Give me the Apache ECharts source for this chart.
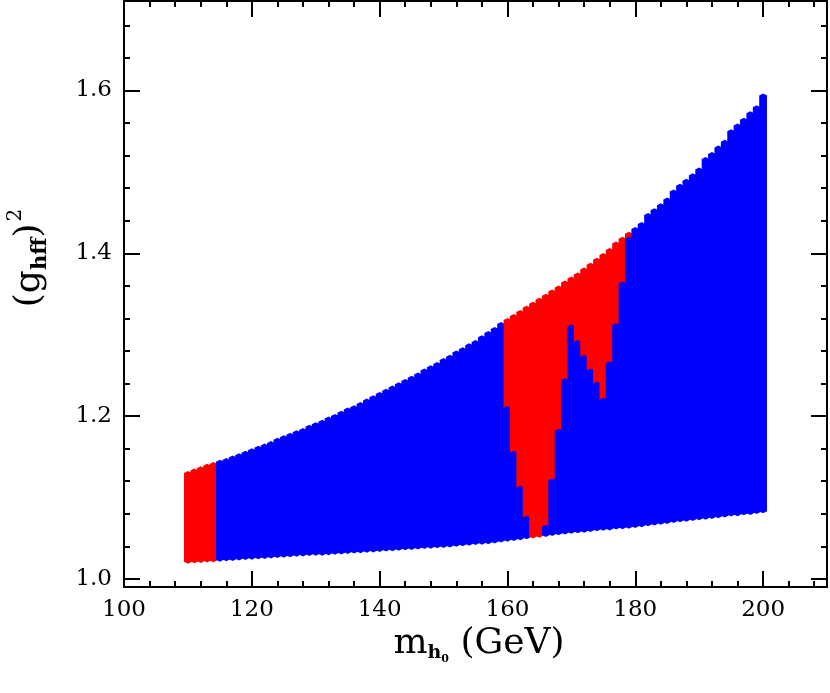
<!DOCTYPE html>
<html>
<head>
<meta charset="utf-8">
<script src="https://cdn.jsdelivr.net/npm/echarts@6/dist/echarts.min.js"></script>
<style>
  html, body { margin: 0; padding: 0; background: #fff; }
  #chart { width: 830px; height: 693px; }
</style>
</head>
<body>
<div id="chart"></div>
<script>
// scan columns: Higgs mass (GeV)
const masses = [
  110, 111, 112, 113, 114, 115, 116, 117, 118, 119,
  120, 121, 122, 123, 124, 125, 126, 127, 128, 129,
  130, 131, 132, 133, 134, 135, 136, 137, 138, 139,
  140, 141, 142, 143, 144, 145, 146, 147, 148, 149,
  150, 151, 152, 153, 154, 155, 156, 157, 158, 159,
  160, 161, 162, 163, 164, 165, 166, 167, 168, 169,
  170, 171, 172, 173, 174, 175, 176, 177, 178, 179,
  180, 181, 182, 183, 184, 185, 186, 187, 188, 189,
  190, 191, 192, 193, 194, 195, 196, 197, 198, 199,
  200
]
// lower edge of the allowed band, (g_hff)^2
const lowerEdge = [
  1.021, 1.0215, 1.022, 1.0225, 1.023, 1.0235, 1.024, 1.0245, 1.025, 1.0255,
  1.026, 1.0265, 1.027, 1.0275, 1.028, 1.0285, 1.029, 1.0295, 1.030, 1.0305,
  1.031, 1.031, 1.0315, 1.032, 1.0325, 1.033, 1.0335, 1.034, 1.0345, 1.035,
  1.0355, 1.036, 1.0365, 1.037, 1.0375, 1.038, 1.0385, 1.039, 1.0395, 1.040,
  1.0405, 1.041, 1.042, 1.0425, 1.043, 1.044, 1.0445, 1.045, 1.046, 1.047,
  1.048, 1.049, 1.050, 1.051, 1.052, 1.053, 1.054, 1.055, 1.056, 1.057,
  1.058, 1.0585, 1.059, 1.060, 1.061, 1.0615, 1.062, 1.063, 1.0635, 1.064,
  1.065, 1.066, 1.067, 1.068, 1.069, 1.070, 1.071, 1.072, 1.0725, 1.0735,
  1.0745, 1.075, 1.076, 1.077, 1.078, 1.079, 1.0795, 1.0805, 1.081, 1.082,
  1.083
]
// upper edge of the allowed band
const upperEdge = [
  1.130, 1.133, 1.136, 1.139, 1.141, 1.144, 1.146, 1.149, 1.152, 1.155,
  1.158, 1.161, 1.164, 1.167, 1.171, 1.174, 1.177, 1.180, 1.183, 1.187,
  1.190, 1.193, 1.197, 1.200, 1.204, 1.208, 1.211, 1.215, 1.219, 1.223,
  1.227, 1.231, 1.235, 1.239, 1.243, 1.247, 1.251, 1.256, 1.260, 1.264,
  1.269, 1.273, 1.278, 1.282, 1.287, 1.291, 1.297, 1.302, 1.307, 1.313,
  1.318, 1.323, 1.328, 1.333, 1.338, 1.343, 1.348, 1.353, 1.358, 1.364,
  1.369, 1.374, 1.380, 1.386, 1.392, 1.398, 1.404, 1.412, 1.418, 1.424,
  1.430, 1.436, 1.447, 1.453, 1.459, 1.466, 1.476, 1.483, 1.489, 1.496,
  1.503, 1.516, 1.522, 1.530, 1.537, 1.550, 1.557, 1.564, 1.572, 1.5795,
  1.594
]
// columns with excluded (red) points, and where the red part starts
const redMasses = [110, 111, 112, 113, 114,
  160, 161, 162, 163, 164, 165, 166, 167, 168, 169,
  170, 171, 172, 173, 174, 175, 176, 177, 178, 179]
const redFloor = [1.021, 1.0215, 1.022, 1.0225, 1.023,
  1.210, 1.155, 1.112, 1.075, 1.052, 1.053, 1.064, 1.121, 1.182, 1.244,
  1.310, 1.291, 1.273, 1.256, 1.240, 1.220, 1.265, 1.312, 1.363, 1.418]

const xTickLabels = ['100', '120', '140', '160', '180', '200']
const yTickLabels = ['1.0', '1.2', '1.4', '1.6']

const BLUE = '#0000ff'
const RED = '#ff0000'
const FONT = 'DejaVu Serif'

// rows: [mass, lower, redStart, upper]
const rows = masses.map((m, i) => {
  const k = redMasses.indexOf(m)
  return [m, lowerEdge[i], k >= 0 ? redFloor[k] : upperEdge[i], upperEdge[i]]
})

const renderColumn = (params, api) => {
  const m = api.value(0)
  const lo = api.coord([m, api.value(1)])
  const rf = api.coord([m, api.value(2)])
  const hi = api.coord([m, api.value(3)])
  const w = api.size([1, 0])[0]
  const xc = lo[0]
  const xl = xc - w / 2 - 0.7 // overlap neighbours a bit, no seams
  const xr = xc + w / 2 + 0.7
  const cap = 2 // diamond tips make the scalloped edge
  const kids = []
  if (rf[1] - hi[1] > 0.5) {
    const pts = [[xl, hi[1]], [xc, hi[1] - cap], [xr, hi[1]], [xr, rf[1]]]
    if (api.value(2) <= api.value(1) + 1e-9) pts.push([xc, rf[1] + cap])
    pts.push([xl, rf[1]])
    kids.push({ type: 'polygon', shape: { points: pts }, style: { fill: RED } })
  }
  if (lo[1] - rf[1] > 0.5) {
    kids.push({
      type: 'polygon',
      shape: { points: [[xl, rf[1]], [xc, rf[1] - cap], [xr, rf[1]], [xr, lo[1]], [xc, lo[1] + cap], [xl, lo[1]]] },
      style: { fill: BLUE },
    })
  }
  return { type: 'group', children: kids }
}

const frameAxis = (extra) => Object.assign({
  type: 'value',
  axisLine: { show: true, onZero: false, lineStyle: { color: '#000', width: 2 } },
  axisTick: { show: true, inside: true, length: 16, lineStyle: { color: '#000', width: 2 } },
  minorTick: { show: true, splitNumber: 5, length: 6, lineStyle: { color: '#000', width: 2 } },
  splitLine: { show: false },
  minorSplitLine: { show: false },
}, extra)

const xAxisBase = { min: 100, max: 210, splitNumber: 5 }
const yAxisBase = { min: 0.99, max: 1.71, splitNumber: 4 }

const chart = echarts.init(document.getElementById('chart'))
chart.setOption({
  animation: false,
  backgroundColor: '#fff',
  grid: { left: 124, right: 2, top: 1, bottom: 106 },
  xAxis: [
    frameAxis(Object.assign({
      position: 'bottom',
      axisLabel: {
        margin: 12, color: '#000', fontFamily: FONT, fontSize: 23,
        formatter: (v) => (xTickLabels.includes(String(v)) ? String(v) : ''),
      },
    }, xAxisBase)),
    frameAxis(Object.assign({ position: 'top', axisLabel: { show: false } }, xAxisBase)),
  ],
  yAxis: [
    frameAxis(Object.assign({
      position: 'left',
      axisLabel: {
        margin: 12, color: '#000', fontFamily: FONT, fontSize: 23,
        formatter: (v) => (yTickLabels.includes(v.toFixed(1)) && Math.abs(v * 5 - Math.round(v * 5)) < 1e-6 ? v.toFixed(1) : ''),
      },
    }, yAxisBase)),
    frameAxis(Object.assign({ position: 'right', axisLabel: { show: false } }, yAxisBase)),
  ],
  series: [
    {
      type: 'custom',
      coordinateSystem: 'cartesian2d',
      xAxisIndex: 0,
      yAxisIndex: 0,
      clip: true,
      renderItem: renderColumn,
      encode: { x: 0, y: [1, 2, 3] },
      data: rows,
    },
  ],
  graphic: [
    {
      type: 'text',
      x: 479,
      y: 644,
      style: {
        text: '{m|m}{h|h}{z|0}{m| (GeV)}',
        align: 'center',
        verticalAlign: 'middle',
        fill: '#000',
        rich: {
          m: { fontFamily: FONT, fontSize: 36, lineHeight: 36, verticalAlign: 'top', padding: [0, 0, 0, 0] },
          h: { fontFamily: FONT, fontSize: 19, fontWeight: 'bold', lineHeight: 19, verticalAlign: 'top', padding: [18, 0, 0, 0] },
          z: { fontFamily: FONT, fontSize: 11, fontWeight: 'bold', lineHeight: 11, verticalAlign: 'top', padding: [28, 0, 0, 0] },
        },
      },
    },
    {
      type: 'text',
      x: 24,
      y: 258,
      rotation: Math.PI / 2,
      style: {
        text: '{p|(}{p|g}{s|hff}{p|)}{u|2}',
        align: 'center',
        verticalAlign: 'middle',
        fill: '#000',
        rich: {
          p: { fontFamily: FONT, fontSize: 36, lineHeight: 36, verticalAlign: 'top', padding: [6, 0, 0, 0] },
          s: { fontFamily: FONT, fontSize: 21, fontWeight: 'bold', lineHeight: 21, verticalAlign: 'top', padding: [24, 0, 0, 0] },
          u: { fontFamily: FONT, fontSize: 20, lineHeight: 20, verticalAlign: 'top', padding: [0, 0, 0, 2] },
        },
      },
    },
  ],
})
</script>
</body>
</html>
